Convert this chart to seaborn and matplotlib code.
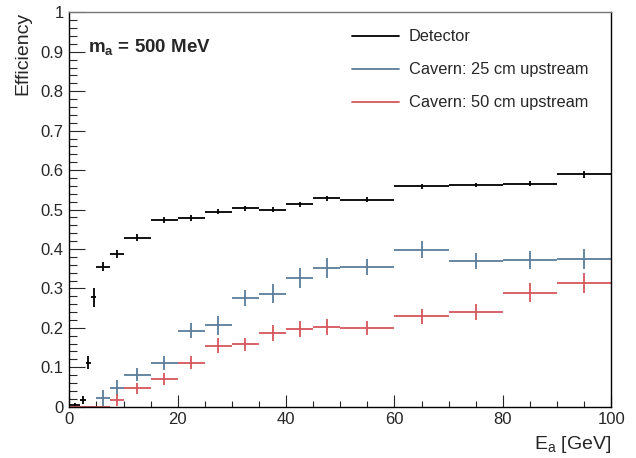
import numpy as np
import pandas as pd
import seaborn as sns
import matplotlib.pyplot as plt
from matplotlib.lines import Line2D
from matplotlib.ticker import MultipleLocator, FormatStrFormatter

# bin edges in E_a [GeV]
bin_edges = [0, 2, 3, 4, 5, 7.5, 10, 15, 20, 25, 30, 35, 40, 45, 50, 60, 70, 80, 90, 100]

# efficiencies
eff_detector = [0.005, 0.018, 0.112, 0.278, 0.355, 0.388, 0.429, 0.474, 0.478, 0.495,
                0.503, 0.500, 0.513, 0.528, 0.525, 0.559, 0.562, 0.566, 0.589]
err_detector = [0.004, 0.010, 0.017, 0.024, 0.012, 0.010, 0.008, 0.008, 0.007, 0.007,
                0.007, 0.007, 0.007, 0.007, 0.006, 0.006, 0.006, 0.006, 0.008]

eff_cav25 = [0, 0, 0, 0, 0.022, 0.047, 0.081, 0.111, 0.193, 0.206,
             0.276, 0.287, 0.326, 0.352, 0.355, 0.398, 0.369, 0.373, 0.374]
err_cav25 = [0, 0, 0, 0, 0.020, 0.020, 0.017, 0.017, 0.020, 0.023,
             0.020, 0.023, 0.025, 0.025, 0.020, 0.022, 0.020, 0.023, 0.025]

eff_cav50 = [0, 0, 0, 0, 0, 0.016, 0.047, 0.071, 0.112, 0.155,
             0.158, 0.186, 0.197, 0.202, 0.200, 0.229, 0.240, 0.289, 0.314]
err_cav50 = [0, 0, 0, 0, 0, 0.015, 0.014, 0.015, 0.016, 0.019,
             0.017, 0.020, 0.020, 0.021, 0.017, 0.019, 0.020, 0.024, 0.025]

labels = ['Detector', 'Cavern: 25 cm upstream', 'Cavern: 50 cm upstream']
colors = ['#000000', '#5b7d9b', '#d7555a']

sns.set_theme(style='ticks')
plt.rcParams['font.family'] = ['Liberation Sans', 'DejaVu Sans']
plt.rcParams['mathtext.default'] = 'regular'

edges = np.array(bin_edges)
centers = (edges[:-1] + edges[1:]) / 2
half_w = (edges[1:] - edges[:-1]) / 2

df = pd.DataFrame({'E': centers, 'dE': half_w,
                   'det': eff_detector, 'det_err': err_detector,
                   'c25': eff_cav25, 'c25_err': err_cav25,
                   'c50': eff_cav50, 'c50_err': err_cav50})

fig = plt.figure(figsize=(6.36, 4.58), dpi=100)
ax = fig.add_axes([0.109, 0.112, 0.852, 0.861])

for col, color in zip(['det', 'c25', 'c50'], colors):
    ax.errorbar(df['E'], df[col], xerr=df['dE'], yerr=df[col + '_err'],
                fmt='none', ecolor=color, elinewidth=1.3, capsize=0)

ax.set_xlim(0, 100)
ax.set_ylim(0, 1)
ax.xaxis.set_major_locator(MultipleLocator(20))
ax.xaxis.set_minor_locator(MultipleLocator(5))
ax.yaxis.set_major_locator(MultipleLocator(0.1))
ax.yaxis.set_minor_locator(MultipleLocator(0.02))
ax.yaxis.set_major_formatter(FormatStrFormatter('%g'))
ax.xaxis.set_major_formatter(FormatStrFormatter('%g'))

ax.tick_params(axis='x', which='major', direction='in', length=8.4, width=0.8,
               labelsize=12, pad=4, top=False)
ax.tick_params(axis='x', which='minor', direction='in', length=4.5, width=0.8, top=False)
ax.tick_params(axis='y', which='major', direction='in', length=11.5, width=0.8,
               labelsize=12, pad=4, right=False)
ax.tick_params(axis='y', which='minor', direction='in', length=6, width=0.8, right=False)

for side in ['left', 'bottom', 'right']:
    ax.spines[side].set_linewidth(1.0)
    ax.spines[side].set_color('black')
ax.spines['top'].set_linewidth(1.0)
ax.spines['top'].set_color('#777777')

ax.set_xlabel('E$_a$ [GeV]', fontsize=14, loc='right')
ax.xaxis.set_label_coords(1.0, -0.068)
ax.set_ylabel('Efficiency', fontsize=14, loc='top')
ax.yaxis.set_label_coords(-0.07, 1.0)

ax.text(0.0345, 0.9005, 'm$_a$ = 500 MeV', transform=ax.transAxes,
        fontsize=13.5, fontweight='bold', ha='left', va='baseline')

handles = [Line2D([], [], color=c, lw=1.3) for c in colors]
ax.legend(handles, labels, loc='upper left', bbox_to_anchor=(0.522, 0.957),
          frameon=False, fontsize=11.8, handlelength=2.85, handletextpad=0.6,
          labelspacing=1.1, borderpad=0, borderaxespad=0)

fig.savefig('out.png', dpi=100)
